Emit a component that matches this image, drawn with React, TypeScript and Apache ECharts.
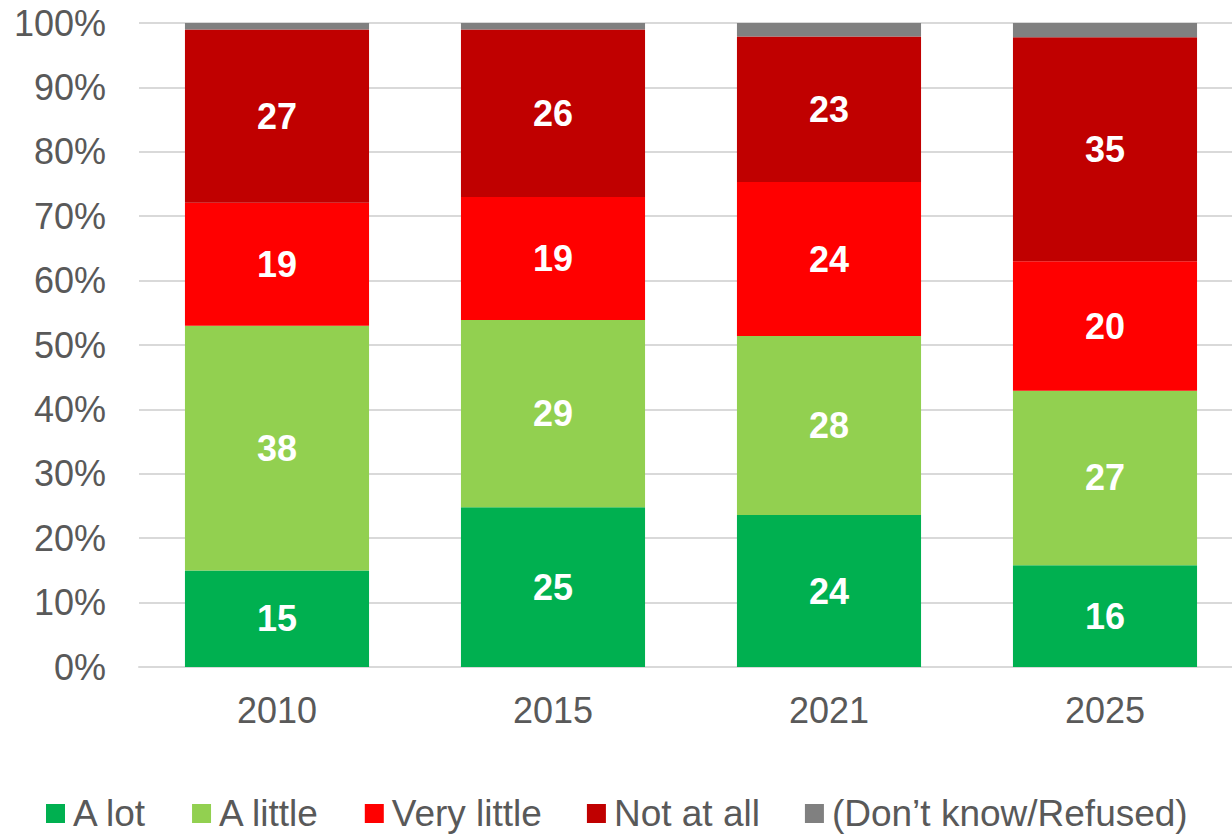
import React, { useEffect, useRef } from "react";
import * as echarts from "echarts";

const years = ["2010", "2015", "2021", "2025"];
const aLot = [15, 24.8, 23.6, 15.8];
const aLittle = [38, 29.1, 27.8, 27.1];
const veryLittle = [19.1, 19.1, 23.9, 20.1];
const notAtAll = [26.9, 26, 22.6, 34.8];
const dontKnow = [1, 1, 2.1, 2.2];
const yTicks = [0, 10, 20, 30, 40, 50, 60, 70, 80, 90, 100];

const names = ["A lot", "A little", "Very little", "Not at all", "(Don\u2019t know/Refused)"];
const colors = ["#00B050", "#92D050", "#FF0000", "#C00000", "#808080"];
const seriesData = [aLot, aLittle, veryLittle, notAtAll, dontKnow];

const FONT = "'Liberation Sans', Arial, sans-serif";

export default function App() {
  const ref = useRef<HTMLDivElement>(null);
  useEffect(() => {
    if (!ref.current) return;
    const chart = echarts.init(ref.current, null, { renderer: "svg" });
    chart.setOption({
      animation: false,
      textStyle: { fontFamily: FONT },
      grid: { left: 139, top: 23, bottom: 167, right: 0, containLabel: false },
      legend: {
        left: 41,
        top: 790,
        itemWidth: 19,
        itemHeight: 19,
        itemGap: 45,
        icon: "rect",
        textStyle: { fontSize: 37, color: "#595959", fontFamily: FONT, padding: [0, 0, 0, 3], lineHeight: 37 },
        data: names,
      },
      xAxis: {
        type: "category",
        data: years,
        axisLine: { lineStyle: { color: "#D9D9D9", width: 2 } },
        axisTick: { show: false },
        axisLabel: { fontSize: 36, color: "#595959", margin: 25, fontFamily: FONT },
      },
      yAxis: {
        type: "value",
        min: yTicks[0],
        max: yTicks[yTicks.length - 1],
        interval: 10,
        axisLine: { show: false },
        axisTick: { show: false },
        splitLine: { lineStyle: { color: "#D9D9D9", width: 2 } },
        axisLabel: { fontSize: 36, color: "#595959", margin: 33, formatter: "{value}%", fontFamily: FONT },
      },
      series: names.map((n, i) => ({
        name: n,
        type: "bar",
        stack: "total",
        barWidth: "66.7%",
        data: seriesData[i],
        itemStyle: { color: colors[i] },
        label: {
          show: i < 4,
          position: "inside",
          color: "#FFFFFF",
          fontWeight: "bold",
          fontSize: 36,
          fontFamily: FONT,
          formatter: (p: any) => String(Math.round(p.value)),
        },
      })),
    });
    return () => chart.dispose();
  }, []);
  return (
    <div
      style={{ position: "fixed", left: 0, top: 0, width: 1232, height: 834, overflow: "hidden", background: "#fff" }}
    >
      <div ref={ref} style={{ position: "absolute", left: 0, top: 0, width: 1243, height: 834 }} />
    </div>
  );
}
